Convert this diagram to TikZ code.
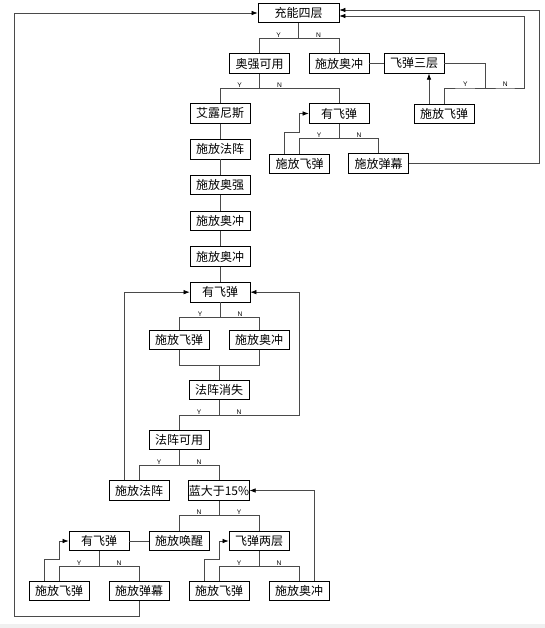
\documentclass[tikz,border=0pt]{standalone}
\usepackage{fontspec}
\usetikzlibrary{arrows.meta,positioning}
\newfontfamily\cjk{Noto Sans CJK SC}
\newfontfamily\lblfont{Liberation Sans}
\definecolor{edgegray}{HTML}{4A4A4A}
\definecolor{stripgray}{HTML}{F0F0F0}

\begin{document}
\begin{tikzpicture}[
      x=0.75pt, y=-0.75pt,
      node distance=11.6pt,
      box/.style={
        draw=black,
        line width=0.6pt,
        fill=white,
        minimum width=45pt,
        minimum height=14.6pt,
        inner sep=0pt,
        font=\cjk\fontsize{9}{10}\selectfont
      },
      yn/.style={anchor=south, inner sep=0.6pt, font=\lblfont\fontsize{5}{5}\selectfont},
      link/.style={draw=edgegray, line width=0.5pt},
      arr/.style={-{Latex[length=4.5pt,width=3.4pt,color=black]}}
    ]
    \useasboundingbox (0,0) rectangle (545,628);
    \fill[stripgray] (0,624) rectangle (545,628);

    \node[box,minimum width=60.75pt] (charge) at (298.5,13) {充能四层};
    \node[box] (aoqiang) at (259.5,63.5) {奥强可用};
    \node[box] (aochongA) at (339,63.5) {施放奥冲};
    \node[box] (fdthree) at (414,63.5) {飞弹三层};
    \node[box] (fireR) at (444,114) {施放飞弹};
    \node[box] (elns) at (220,113.5) {艾露尼斯};
    \node[box] (hasA) at (339,113.5) {有飞弹};
    \node[box] (fireA) at (299.5,164) {施放飞弹};
    \node[box] (barrA) at (378.5,163.5) {施放弹幕};
    \node[box,below=of elns] (castA) {施放法阵};
    \node[box,below=of castA] (aoqiangB) {施放奥强};
    \node[box,below=of aoqiangB] (aochongB) {施放奥冲};
    \node[box,below=of aochongB] (aochongC) {施放奥冲};
    \node[box,below=of aochongC] (hasB) {有飞弹};
    \node[box] (fireB) at (179,340) {施放飞弹};
    \node[box] (aochongD) at (259,340) {施放奥冲};
    \node[box] (vanish) at (219,390) {法阵消失};
    \node[box] (fzky) at (179,440) {法阵可用};
    \node[box] (castB) at (139,490.5) {施放法阵};
    \node[box] (blue) at (219,490.5) {蓝大于15\%};
    \node[box] (wake) at (179,541) {施放唤醒};
    \node[box] (hasC) at (99,541) {有飞弹};
    \node[box] (fdtwo) at (259,541) {飞弹两层};
    \node[box] (fireC) at (59,591) {施放飞弹};
    \node[box] (barrC) at (139,591) {施放弹幕};
    \node[box] (fireD) at (219,591) {施放飞弹};
    \node[box] (aochongE) at (299,591) {施放奥冲};

    \draw[link] (charge.south) -- ++(0,15) coordinate (jA);
    \draw[link] (jA) -- ++(-20,0) node[yn]{Y} -| (aoqiang.north);
    \draw[link] (jA) -- ++(20,0) node[yn]{N} -| (aochongA.north);
    \draw[link] (aochongA) -- (fdthree);
    \draw[link] (fdthree.east) -- ++(41,0) -- ++(0,24.5) coordinate (jC);
    \draw[link] (jC) -- ++(-20,0) node[yn]{Y} -| (fireR.north);
    \draw[link,arr] (jC) -- ++(20,0) node[yn]{N} -- ++(19,0) |- ([yshift=-2.25pt]charge.east);
    \draw[link,arr] ([xshift=-11.25pt]fireR.north) -- ([xshift=-11.25pt]fireR.north |- fdthree.south);

    \draw[link] (aoqiang.south) -- ++(0,15) coordinate (jD);
    \draw[link] (jD) -- ++(-20,0) node[yn]{Y} -| (elns.north);
    \draw[link] (jD) -- ++(20,0) node[yn]{N} -| (hasA.north);

    \draw[link] (hasA.south) -- ++(0,15) coordinate (jE);
    \draw[link] (jE) -- ++(-20,0) node[yn]{Y} -| (fireA.north);
    \draw[link] (jE) -- ++(20,0) node[yn]{N} -| (barrA.north);
    \draw[link,arr] ([xshift=-11.25pt]fireA.north) |- ++(15,-22) |- (hasA.west);
    \draw[link,arr] (barrA.east) -- ++(130,0) |- ([yshift=2.25pt]charge.east);

    \draw[link] (elns) -- (castA);
    \draw[link] (castA) -- (aoqiangB);
    \draw[link] (aoqiangB) -- (aochongB);
    \draw[link] (aochongB) -- (aochongC);
    \draw[link] (aochongC) -- (hasB);

    \draw[link] (hasB.south) -- ++(0,15) coordinate (jF);
    \draw[link] (jF) -- ++(-20,0) node[yn]{Y} -| (fireB.north);
    \draw[link] (jF) -- ++(20,0) node[yn]{N} -| (aochongD.north);
    \draw[link] (fireB.south) -- ++(0,15) coordinate (jG) -| (aochongD.south);
    \draw[link] (jG -| vanish.north) -- (vanish.north);

    \draw[link] (vanish.south) -- ++(0,15) coordinate (jH);
    \draw[link] (jH) -- ++(-20,0) node[yn]{Y} -| (fzky.north);
    \draw[link,arr] (jH) -- ++(20,0) node[yn]{N} -- ++(60,0) |- (hasB.east);
    \draw[link,arr] ([xshift=-11.25pt]castB.north) |- (hasB.west);

    \draw[link] (fzky.south) -- ++(0,15) coordinate (jI);
    \draw[link] (jI) -- ++(-20,0) node[yn]{Y} -| (castB.north);
    \draw[link] (jI) -- ++(20,0) node[yn]{N} -| (blue.north);

    \draw[link] (blue.south) -- ++(0,15) coordinate (jJ);
    \draw[link] (jJ) -- ++(-20,0) node[yn]{N} -| (wake.north);
    \draw[link] (jJ) -- ++(20,0) node[yn]{Y} -| (fdtwo.north);
    \draw[link] (wake) -- (hasC);

    \draw[link] (hasC.south) -- ++(0,15) coordinate (jK);
    \draw[link] (jK) -- ++(-20,0) node[yn]{Y} -| (fireC.north);
    \draw[link] (jK) -- ++(20,0) node[yn]{N} -| (barrC.north);
    \draw[link,arr] ([xshift=-11.25pt]fireC.north) |- ++(15,-22) |- (hasC.west);
    \draw[link,arr] (barrC.south) -- ++(0,15) -- ++(-125,0) |- (charge.west);

    \draw[link] (fdtwo.south) -- ++(0,15) coordinate (jL);
    \draw[link] (jL) -- ++(-20,0) node[yn]{Y} -| (fireD.north);
    \draw[link] (jL) -- ++(20,0) node[yn]{N} -| (aochongE.north);
    \draw[link,arr] ([xshift=-11.25pt]fireD.north) |- ++(15,-22) |- (fdtwo.west);
    \draw[link,arr] ([xshift=11.25pt]aochongE.north) |- (blue.east);
  \end{tikzpicture}
\end{document}
